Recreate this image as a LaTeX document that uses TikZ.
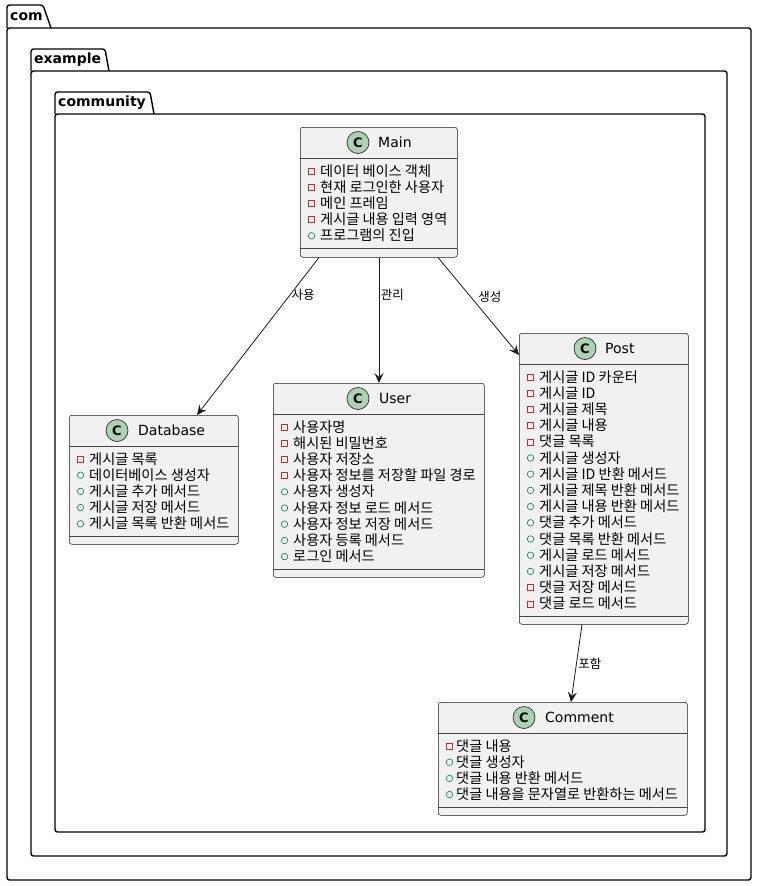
\documentclass[tikz,border=0pt]{standalone}
\usepackage{fontspec}
\setmainfont{DejaVu Sans}
\newfontfamily\krfont{Noto Sans CJK KR}
\usetikzlibrary{arrows.meta}

\definecolor{boxfill}{HTML}{F1F1F1}
\definecolor{boxline}{HTML}{181818}
\definecolor{badgefill}{HTML}{ADD1B2}
\definecolor{privred}{HTML}{C82930}
\definecolor{pubgreen}{HTML}{038048}

\begin{document}
\begin{tikzpicture}[x=1pt, y=-1pt,
  pkg/.style={draw=black, line width=1.4pt, rounded corners=2.5pt},
  pkglabel/.style={anchor=west, inner sep=0pt, font=\bfseries\fontsize{14}{16}\selectfont},
  classbox/.style={rectangle, draw=boxline, fill=boxfill, line width=0.5pt, rounded corners=2.5pt, anchor=north west, inner sep=0pt},
  badge/.style={circle, draw=boxline, fill=badgefill, line width=0.6pt, minimum size=22pt, inner sep=0pt, font=\bfseries\fontsize{13}{13}\selectfont},
  cname/.style={anchor=west, inner sep=0pt, font=\fontsize{14}{16}\selectfont},
  member/.style={anchor=base west, inner sep=0pt, font=\krfont\fontsize{14.2}{16}\selectfont},
  priv/.style={rectangle, draw=privred, line width=0.6pt, minimum size=6pt, inner sep=0pt},
  pub/.style={circle, draw=pubgreen, line width=0.6pt, minimum size=6.5pt, inner sep=0pt},
  sep/.style={draw=boxline!80, line width=0.5pt},
  assoc/.style={-{Stealth[length=10pt, width=9pt, inset=4pt]}, draw=boxline, line width=0.8pt},
  elabel/.style={anchor=west, inner sep=1.5pt, font=\krfont\fontsize{12.5}{14}\selectfont}
]
\useasboundingbox (0,0) rectangle (758,886);

% Packages
\draw[pkg] (7,28) -- (7,5) -- (43,5) -- (51,28);
\draw[pkg] (7,28) rectangle (751,880);
\node[pkglabel] (com) at (10,16.5) {com};

\draw[pkg] (31,71) -- (31,49) -- (105,49) -- (109,71);
\draw[pkg] (31,71) rectangle (727,856);
\node[pkglabel] (example) at (34,60) {example};

\draw[pkg] (55,114) -- (55,92) -- (150,92) -- (154,114);
\draw[pkg] (55,114) rectangle (705,832);
\node[pkglabel] (community) at (58,103) {community};

% Main
\node[classbox, minimum width=157pt, minimum height=130pt] (Main) at (300,127) {};
\draw[sep] (300,158) -- (457,158);
\node[badge] (Main-c) at (358,142.5) {C};
\node[cname] (Main-n) at (378,142.5) {Main};
\foreach \v/\t [count=\i] in {priv/데이터 베이스 객체, priv/현재 로그인한 사용자, priv/메인 프레임, priv/게시글 내용 입력 영역, pub/프로그램의 진입} {
  \node[\v] (Main-v\i) at (311.5,{171+16.2*(\i-1)}) {};
  \node[member] (Main-t\i) at (320,{171+16.2*(\i-1)+5}) {\t};
}
\draw[sep] (300,248) -- (457,248);

% Database
\node[classbox, minimum width=169pt, minimum height=129pt] (Database) at (69,415) {};
\draw[sep] (69,446) -- (238,446);
\node[badge] (Database-c) at (117,430.5) {C};
\node[cname] (Database-n) at (138,430.5) {Database};
\foreach \v/\t [count=\i] in {priv/게시글 목록, pub/데이터베이스 생성자, pub/게시글 추가 메서드, pub/게시글 저장 메서드, pub/게시글 목록 반환 메서드} {
  \node[\v] (Database-v\i) at (80.5,{459+16.2*(\i-1)}) {};
  \node[member] (Database-t\i) at (89,{459+16.2*(\i-1)+5}) {\t};
}
\draw[sep] (69,536) -- (238,536);

% User
\node[classbox, minimum width=211pt, minimum height=194pt] (User) at (273,383) {};
\draw[sep] (273,414) -- (484,414);
\node[badge] (User-c) at (358,398.5) {C};
\node[cname] (User-n) at (379,398.5) {User};
\foreach \v/\t [count=\i] in {priv/사용자명, priv/해시된 비밀번호, priv/사용자 저장소, priv/사용자 정보를 저장할 파일 경로, pub/사용자 생성자, pub/사용자 정보 로드 메서드, pub/사용자 정보 저장 메서드, pub/사용자 등록 메서드, pub/로그인 메서드} {
  \node[\v] (User-v\i) at (284.5,{427+16.2*(\i-1)}) {};
  \node[member] (User-t\i) at (293,{427+16.2*(\i-1)+5}) {\t};
}
\draw[sep] (273,569) -- (484,569);

% Post
\node[classbox, minimum width=169pt, minimum height=291pt] (Post) at (519,333) {};
\draw[sep] (519,364) -- (688,364);
\node[badge] (Post-c) at (585,348.5) {C};
\node[cname] (Post-n) at (605,348.5) {Post};
\foreach \v/\t [count=\i] in {priv/게시글 ID 카운터, priv/게시글 ID, priv/게시글 제목, priv/게시글 내용, priv/댓글 목록, pub/게시글 생성자, pub/게시글 ID 반환 메서드, pub/게시글 제목 반환 메서드, pub/게시글 내용 반환 메서드, pub/댓글 추가 메서드, pub/댓글 목록 반환 메서드, pub/게시글 로드 메서드, pub/게시글 저장 메서드, priv/댓글 저장 메서드, priv/댓글 로드 메서드} {
  \node[\v] (Post-v\i) at (530.5,{377+16.2*(\i-1)}) {};
  \node[member] (Post-t\i) at (539,{377+16.2*(\i-1)+5}) {\t};
}
\draw[sep] (519,616) -- (688,616);

% Comment
\node[classbox, minimum width=249pt, minimum height=113pt] (Comment) at (438,702) {};
\draw[sep] (438,733) -- (687,733);
\node[badge] (Comment-c) at (524,717.5) {C};
\node[cname] (Comment-n) at (545,717.5) {Comment};
\foreach \v/\t [count=\i] in {priv/댓글 내용, pub/댓글 생성자, pub/댓글 내용 반환 메서드, pub/댓글 내용을 문자열로 반환하는 메서드} {
  \node[\v] (Comment-v\i) at (449.5,{746+16.2*(\i-1)}) {};
  \node[member] (Comment-t\i) at (456,{746+16.2*(\i-1)+5}) {\t};
}
\draw[sep] (438,807) -- (687,807);

% Associations
\draw[assoc] ([xshift=19pt]Main.south west) -- node[elabel, pos=0.24] {사용} ([xshift=128pt]Database.north west);
\draw[assoc] ([xshift=79pt]Main.south west) -- node[elabel, pos=0.30] {관리} ([xshift=106pt]User.north west);
\draw[assoc] ([xshift=138pt]Main.south west) -- node[elabel, pos=0.40, xshift=6pt] {생성} ([yshift=-22pt]Post.north west);
\draw[assoc] ([xshift=63pt]Post.south west) -- node[elabel, pos=0.5] {포함} ([xshift=133pt]Comment.north west);

\end{tikzpicture}
\end{document}
